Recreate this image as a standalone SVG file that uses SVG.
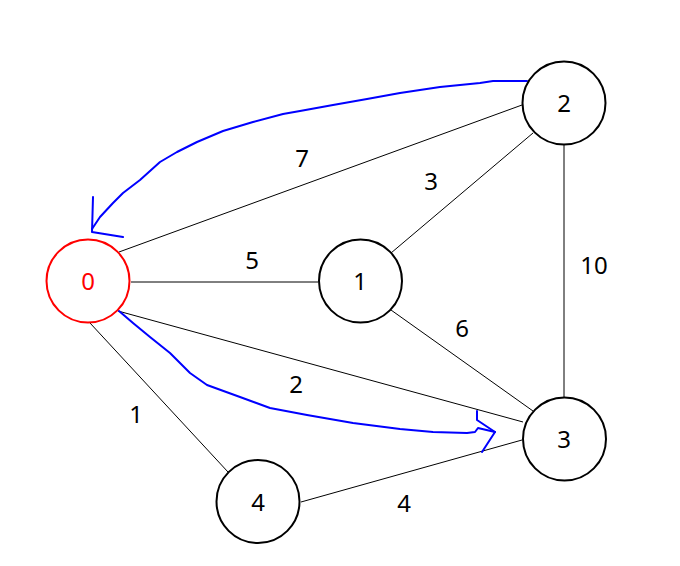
<svg xmlns="http://www.w3.org/2000/svg" width="680" height="566" viewBox="0 0 680 566">
<style>
.node{fill:#fff;stroke:#000;stroke-width:2}
.lbl{font-family:"Noto Sans","Open Sans",sans-serif;font-size:24px;text-anchor:middle;fill:#000}
.edge{stroke:#000;stroke-width:1;fill:none}
.blue{stroke:#0000ff;stroke-width:2;fill:none;stroke-linejoin:round;stroke-linecap:round}
</style>
<rect width="680" height="566" fill="#fff"/>
<g id="edges">
<line class="edge" x1="119" y1="252" x2="522" y2="105"/>
<line class="edge" x1="131" y1="282" x2="318" y2="282"/>
<line class="edge" x1="391" y1="253" x2="533" y2="133"/>
<line class="edge" x1="564" y1="144" x2="564" y2="398"/>
<line class="edge" x1="391" y1="310" x2="533" y2="411"/>
<line class="edge" x1="118" y1="311" x2="523" y2="422"/>
<line class="edge" x1="90" y1="323" x2="228" y2="472"/>
<line class="edge" x1="301" y1="502" x2="522" y2="440"/>
<text class="lbl" x="302" y="167">7</text>
<text class="lbl" x="431" y="190">3</text>
<text class="lbl" x="252" y="269">5</text>
<text class="lbl" x="594" y="274">10</text>
<text class="lbl" x="462" y="337">6</text>
<text class="lbl" x="296" y="393">2</text>
<text class="lbl" x="136" y="423">1</text>
<text class="lbl" x="404" y="512">4</text>
<path class="blue" d="M527,81 L493,81 L480,83 L440,87 L400,93 L367,99 L333,105 L300,111 L283,114 L253,122 L223,131 L197,142 L177,152 L160,162 L140,180 L123,193 L113,203 L100,217 L92,229"/>
<path class="blue" d="M93,197 L92,232 L123,237"/>
<path class="blue" d="M119,311 L133,323 L150,337 L170,353 L180,363 L190,373 L207,385 L240,397 L270,408 L307,415 L353,423 L400,429 L433,432 L467,433 L475,432 L478,428 L495,432"/>
<path class="blue" d="M477,411 L477,420 L495,432 L482,452"/>
</g>
<g id="node0"><circle cx="88" cy="281" r="41.5" fill="#fff" stroke="#ff0000" stroke-width="2"/><text class="lbl" x="88" y="290" style="fill:#ff0000">0</text></g>
<g id="node1"><circle class="node" cx="360.5" cy="281" r="41.5"/><text class="lbl" x="360" y="290">1</text></g>
<g id="node2"><circle class="node" cx="564" cy="103" r="41.5"/><text class="lbl" x="564" y="112">2</text></g>
<g id="node3"><circle class="node" cx="564.5" cy="439" r="41.5"/><text class="lbl" x="564" y="448">3</text></g>
<g id="node4"><circle class="node" cx="258" cy="501.5" r="41.5"/><text class="lbl" x="258" y="511">4</text></g>
</svg>
